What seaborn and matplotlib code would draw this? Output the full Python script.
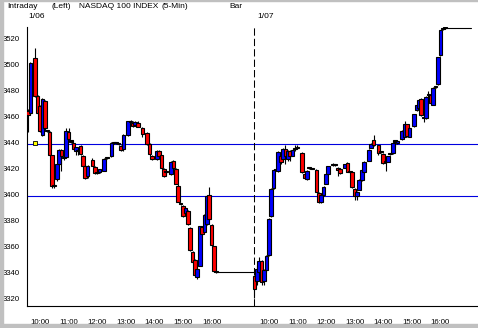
import matplotlib
matplotlib.use("Agg")
import matplotlib.pyplot as plt
import matplotlib.transforms as mtransforms
from matplotlib.patches import Rectangle
from matplotlib import font_manager as fm
from matplotlib.ticker import MultipleLocator, FixedLocator
import pandas as pd
import seaborn as sns

# ---------------- data ----------------
days = ["1/06", "1/07"]
session_open = "09:30"
session_close = "17:30"
bar_minutes = 5

d1_time = ["09:35", "09:40", "09:50", "09:55", "10:00", "10:05", "10:10", "10:15", "10:20", "10:25",
           "10:30", "10:35", "10:40", "10:45", "10:50", "10:55", "11:00", "11:05", "11:10", "11:15",
           "11:20", "11:25", "11:30", "11:35", "11:40", "11:50", "11:55", "12:00", "12:05", "12:15",
           "12:20", "12:30", "12:35", "12:40", "12:45", "12:50", "12:55", "13:05", "13:10", "13:15",
           "13:20", "13:25", "13:35", "13:45", "13:50", "13:55", "14:05", "14:10", "14:15", "14:20",
           "14:25", "14:35", "14:40", "14:45", "14:50", "14:55", "15:00", "15:05", "15:10", "15:15",
           "15:20", "15:25", "15:30", "15:35", "15:40", "15:45", "15:50", "15:55", "16:00", "16:05", "16:10"]
d1_open = [3464.5, 3463, 3504.8, 3475.9, 3468, 3445.9, 3472.1, 3449, 3448.4, 3430.6,
           3407, 3412.2, 3423.7, 3434.6, 3428.5, 3428.8, 3448.4, 3441, 3440.2, 3433.8,
           3434, 3437.7, 3430, 3422.4, 3414.2, 3427, 3421.1, 3417, 3417.5, 3418.6,
           3428.3, 3430, 3440, 3439.5, 3439, 3437.2, 3435.2, 3445.9, 3456, 3455.5,
           3453.5, 3455.5, 3451.7, 3447.4, 3439, 3430, 3427.5, 3433.9, 3430.6, 3419.9,
           3417.3, 3416, 3426.2, 3419.9, 3407.1, 3393.1, 3391.8, 3386, 3387.8, 3374.8,
           3356.1, 3349.7, 3336.9, 3345.4, 3375.2, 3371.4, 3377.8, 3400, 3377, 3360.5, 3340.8]
d1_high = [3466, 3502, 3512.7, 3477, 3469, 3474.5, 3473, 3450, 3449, 3431,
           3408, 3424, 3435, 3435, 3429, 3451.7, 3451.7, 3442, 3441, 3437,
           3435, 3438, 3431, 3423, 3423, 3428, 3422, 3417.5, 3420, 3428,
           3429, 3440.5, 3441, 3440, 3439.5, 3438, 3446.5, 3457, 3457.5, 3456.5,
           3456.5, 3456.5, 3452, 3448, 3439.5, 3431, 3434.5, 3434.5, 3431, 3420.5,
           3418, 3426, 3426.8, 3420.5, 3408, 3394, 3392.5, 3391, 3388.5, 3375.5,
           3357, 3350.5, 3343.8, 3376, 3376, 3385, 3400, 3405.8, 3377.5, 3361, 3341.2]
d1_low = [3448, 3461, 3475, 3462, 3448.5, 3445, 3450, 3448.5, 3430, 3405,
          3405, 3411, 3423, 3418.6, 3427, 3428, 3442, 3440, 3435, 3430.6,
          3431, 3431, 3422, 3412, 3413, 3422, 3416, 3416, 3417, 3418,
          3427.5, 3429, 3439, 3438.8, 3438.5, 3434, 3434, 3445, 3455.5, 3452,
          3453, 3452, 3444.5, 3438.5, 3429.5, 3427, 3427, 3429.5, 3420, 3413.5,
          3415, 3415, 3419.5, 3408, 3394.5, 3392, 3383, 3385, 3377, 3357,
          3348, 3337.7, 3335.2, 3345, 3369.5, 3371, 3377, 3381, 3360.5, 3340.8, 3340.3]
d1_close = [3461.4, 3501, 3475.9, 3462.7, 3449.2, 3473.9, 3451.7, 3449, 3430.6, 3406.6,
            3407, 3423.7, 3434.6, 3430, 3428.5, 3449, 3442.8, 3441, 3435.6, 3436.8,
            3434, 3431.4, 3422.4, 3413.2, 3422.4, 3422.4, 3416.8, 3417, 3419.5, 3427.5,
            3428.3, 3439.8, 3440, 3439.5, 3439, 3434.6, 3445.9, 3456.6, 3456, 3453,
            3456, 3452.5, 3446.6, 3439, 3431.4, 3427.5, 3433.9, 3430, 3420.3, 3414.2,
            3417.3, 3425.5, 3420.3, 3408.4, 3394.9, 3393.1, 3383.6, 3390, 3377.5, 3357.4,
            3348.4, 3338.8, 3343.4, 3375.7, 3370.2, 3384.2, 3399.5, 3381.6, 3361.2, 3341.3, 3340.8]

d2_time = ["09:30", "09:35", "09:40", "09:45", "09:50", "09:55", "10:00", "10:05", "10:10", "10:15",
           "10:20", "10:25", "10:30", "10:35", "10:40", "10:45", "10:50", "10:55", "11:00",
           "11:10", "11:15", "11:20", "11:25", "11:30", "11:40", "11:45", "11:50", "11:55", "12:00",
           "12:05", "12:15", "12:20", "12:25", "12:30", "12:40", "12:45", "12:50", "12:55", "13:00",
           "13:05", "13:10", "13:15", "13:20", "13:30", "13:35", "13:40", "13:50", "13:55", "14:00",
           "14:05", "14:10", "14:15", "14:20", "14:25", "14:30", "14:40", "14:45", "14:50", "14:55",
           "15:05", "15:10", "15:15", "15:20", "15:25", "15:30", "15:35", "15:40", "15:45", "15:50",
           "15:55", "16:00", "16:05", "16:10"]
d2_open = [3337.7, 3333.7, 3341, 3349, 3333.7, 3342.1, 3353.6, 3383.6, 3405, 3419,
           3418, 3429.5, 3427.5, 3435.2, 3427.5, 3433.9, 3430, 3435, 3436,
           3432.1, 3416, 3412.2, 3420.3, 3420, 3419.3, 3401.5, 3394.9, 3400, 3408.4,
           3416.3, 3423, 3423, 3421, 3420, 3421, 3424.5, 3417.3, 3417.3, 3404.6,
           3399, 3404, 3411.7, 3417.8, 3426.2, 3436.4, 3442.3, 3438.2, 3432.6, 3431.4,
           3425, 3425.5, 3431.4, 3432.1, 3441, 3439.5, 3442.8, 3444.8, 3454.3, 3444.8,
           3453, 3465.2, 3467, 3473.9, 3459.3, 3459.1, 3476.5, 3476.5, 3469.3, 3483,
           3484.9, 3507.1, 3527.4, 3528]
d2_high = [3338.5, 3346, 3352.4, 3350, 3343, 3354, 3382, 3405, 3420, 3420,
           3434, 3430, 3436, 3438.5, 3434.5, 3434.5, 3435, 3438.5, 3438,
           3433, 3416.5, 3419, 3421.5, 3420.5, 3420, 3402, 3400.5, 3406.5, 3416.5,
           3422.5, 3424.2, 3423.5, 3421.5, 3420.5, 3424, 3425.5, 3417.8, 3417.8, 3405,
           3403, 3412, 3419.8, 3426, 3435, 3439.5, 3445.9, 3438.6, 3433, 3431.9,
           3425.5, 3430, 3432, 3440.2, 3442.5, 3442, 3449.6, 3456.8, 3454.8, 3452.2,
           3462.5, 3469.3, 3473.5, 3474.4, 3459.8, 3475.9, 3480, 3477, 3482.8, 3483.5,
           3506.3, 3527, 3528, 3528.6]
d2_low = [3321, 3331, 3340, 3330.7, 3331, 3341, 3353, 3383, 3404.5, 3418.5,
          3417.5, 3424, 3427, 3423.7, 3426, 3426, 3429.5, 3434, 3435,
          3417, 3412, 3411.5, 3419.5, 3419.5, 3402, 3393.9, 3394, 3399.5, 3408,
          3416, 3422.5, 3422.5, 3414.5, 3416, 3420.5, 3417.5, 3417, 3405.5, 3396.4,
          3396.4, 3403.5, 3411, 3417, 3425.8, 3436, 3437.8, 3430.5, 3432, 3424,
          3418.6, 3425, 3431, 3431.6, 3437, 3439, 3442.3, 3444.3, 3444.8, 3444.3,
          3452.5, 3464.8, 3466.5, 3460.7, 3456, 3458.6, 3466, 3469.9, 3468.8, 3482.5,
          3484.4, 3506.6, 3527, 3527.6]
d2_close = [3328, 3343.4, 3349, 3332.7, 3342.1, 3353, 3381.7, 3404.6, 3419.3, 3419,
            3433, 3425.5, 3435.2, 3430, 3433.9, 3430, 3434.6, 3435, 3436,
            3417.8, 3412.7, 3418.6, 3420.3, 3420, 3402.5, 3394.9, 3400, 3406, 3416,
            3422, 3423, 3423, 3419.3, 3416.6, 3423.7, 3417.8, 3417.3, 3405.8, 3399.5,
            3402.5, 3411.7, 3419.3, 3425.5, 3434.6, 3439, 3438.2, 3432.1, 3432.6, 3424.5,
            3425, 3429.5, 3431.4, 3439.8, 3441, 3441.5, 3449.2, 3454.3, 3445.3, 3451.7,
            3462, 3468.8, 3473, 3461.2, 3459.3, 3475.4, 3476.5, 3470.4, 3482.3, 3483,
            3505.8, 3526.5, 3527.4, 3528]

# after-hours flat segments (one per day)
ah_start = ["16:10", "16:10"]
ah_end = ["17:30", "17:05"]
ah_level = [3340.5, 3528.6]

ref_levels = [3439, 3399]          # horizontal reference lines
marker_time = "09:50"              # small marker on day 1
marker_value = 3439.5
hour_labels = ["10:00", "11:00", "12:00", "13:00", "14:00", "15:00", "16:00"]
title_parts = ["Intraday", "(Left)", "NASDAQ 100 INDEX", "(5-Min)", "Bar"]

# ---------------- helpers ----------------
def minutes(t):
    h, m = map(int, t.split(":"))
    return h * 60 + m

BARS_PER_DAY = (minutes(session_close) - minutes(session_open)) // bar_minutes


def to_idx(day_num, t):
    return day_num * BARS_PER_DAY + (minutes(t) - minutes(session_open)) / bar_minutes


rows = []
for dn, (tt, oo, hh, ll, cc) in enumerate([(d1_time, d1_open, d1_high, d1_low, d1_close),
                                             (d2_time, d2_open, d2_high, d2_low, d2_close)]):
    for t, o, h, l, c in zip(tt, oo, hh, ll, cc):
        rows.append(dict(x=to_idx(dn, t), o=o, h=h, l=l, c=c))
bars = pd.DataFrame(rows)

# ---------------- figure ----------------
sns.set_style("white")
names = {f.name for f in fm.fontManager.ttflist}
base_font = "Liberation Sans" if "Liberation Sans" in names else "DejaVu Sans"
tick_font = "Liberation Sans Narrow" if "Liberation Sans Narrow" in names else base_font
plt.rcParams["font.family"] = [base_font, "DejaVu Sans"]

W, H = 478, 328
fig = plt.figure(figsize=(W / 100, H / 100), dpi=100)
fig.patch.set_facecolor("white")
ax = fig.add_axes([27 / W, 22 / H, 451 / W, 279 / H])
ax.set_facecolor("white")

# gray frame
gray = "#c0c0c0"
fig.patches.append(Rectangle((0, 0), 3 / W, 1, transform=fig.transFigure, color=gray, zorder=0))
fig.patches.append(Rectangle((0, 0), 1, 4 / H, transform=fig.transFigure, color=gray, zorder=0))
fig.patches.append(Rectangle((0, 1 - 1 / H), 1, 1 / H, transform=fig.transFigure, color=gray, zorder=0))

# reference lines
for lv in ref_levels:
    ax.axhline(lv, color="#0000e0", lw=0.8, zorder=1.5)

# day divider
ax.axvline(to_idx(1, session_open), color="black", lw=0.75, dashes=(7, 3), zorder=1.6)

# after-hours flat lines via seaborn
ah_rows = []
for dn in range(len(days)):
    ah_rows.append(dict(seg=dn, x=to_idx(dn, ah_start[dn]), y=ah_level[dn]))
    ah_rows.append(dict(seg=dn, x=to_idx(dn, ah_end[dn]), y=ah_level[dn]))
ah_df = pd.DataFrame(ah_rows)
sns.lineplot(data=ah_df, x="x", y="y", units="seg", estimator=None, color="black",
             lw=0.8, ax=ax, zorder=2)

# candlesticks
bw = 1.55
for k, r in bars.iterrows():
    z = 3 + k * 0.002
    ax.vlines(r.x, r.l, r.h, color="black", lw=0.8, zorder=z)
    if r.c > r.o:
        fc = "#0000ff"
    elif r.c < r.o:
        fc = "#ff0000"
    else:
        fc = "black"
    bottom = min(r.o, r.c)
    height = max(abs(r.c - r.o), 0.8)
    ax.add_patch(Rectangle((r.x - bw / 2, bottom), bw, height, facecolor=fc,
                           edgecolor="black", lw=0.8, zorder=z + 0.001))

# marker
ax.plot([to_idx(0, marker_time)], [marker_value], marker="s", ms=3.2, mfc="#ffff00",
        mec="black", mew=0.6, ls="none", zorder=10)

# axes limits & ticks
ax.set_xlim(0.55, 189.8)
ax.set_ylim(3314.6, 3529)
for s in ["top", "right"]:
    ax.spines[s].set_visible(False)
for s in ["left", "bottom"]:
    ax.spines[s].set_color("black")
    ax.spines[s].set_linewidth(0.8)

major_x = [to_idx(dn, t) for dn in range(len(days)) for t in hour_labels]
ax.xaxis.set_major_locator(FixedLocator(major_x))
ax.set_xticklabels(hour_labels * len(days))
ax.xaxis.set_minor_locator(MultipleLocator(10 / bar_minutes))
ax.yaxis.set_major_locator(MultipleLocator(20))
ax.yaxis.set_minor_locator(MultipleLocator(5))
ax.tick_params(axis="x", which="both", direction="out", length=2.2, width=0.7,
               pad=7.5, labelsize=5.6, colors="black")
ax.tick_params(axis="y", which="major", direction="out", length=2.8, width=0.7,
               pad=2.5, labelsize=5.6, colors="black")
ax.tick_params(axis="y", which="minor", direction="out", length=1.5, width=0.7)
for lab in ax.get_xticklabels() + ax.get_yticklabels():
    lab.set_fontfamily([tick_font, "DejaVu Sans"])
ax.set_xlabel("")
ax.set_ylabel("")
ax.grid(False)

# title texts
ty = 1 - 7 / H
for txt, px in zip(title_parts, [7, 52, 79, 162, 229]):
    fig.text(px / W, ty, txt, fontsize=6, ha="left", va="center", color="black")

# day labels
trans = mtransforms.blended_transform_factory(ax.transData, fig.transFigure)
for dn, d in enumerate(days):
    ax.text(to_idx(dn, session_open) + 1.2, 1 - 16.7 / H, d, transform=trans,
            fontsize=6, ha="left", va="center", color="black", clip_on=False)

fig.savefig("out.png", dpi=100)
